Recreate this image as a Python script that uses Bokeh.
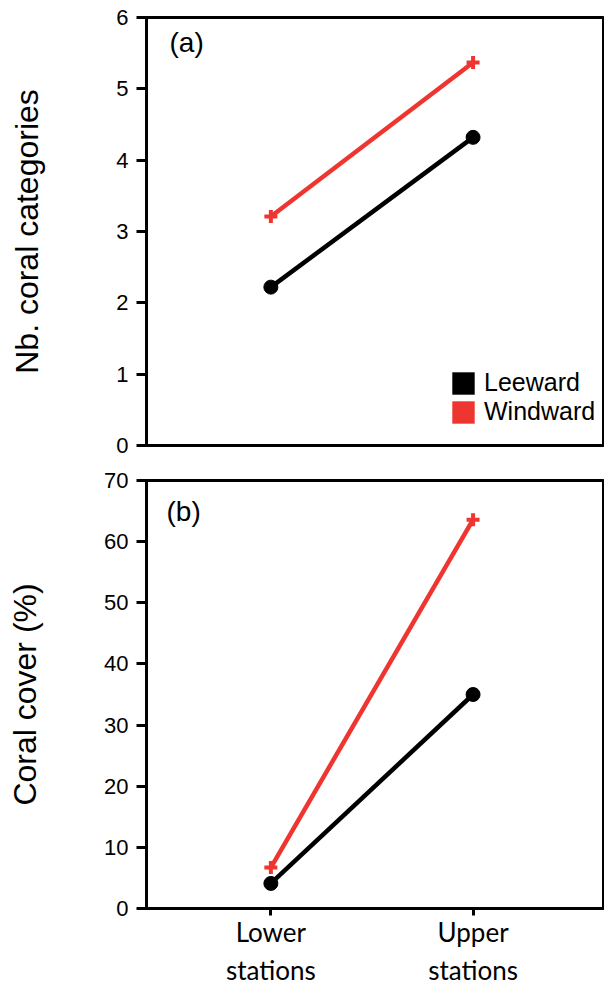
from bokeh.plotting import figure
from bokeh.layouts import column
from bokeh.models import Range1d, FixedTicker, Label, Legend, LegendItem, ColumnDataSource
from bokeh.embed import file_html
from bokeh.resources import INLINE

stations = ["Lower\nstations", "Upper\nstations"]
xpos = [1, 2]
categories_leeward = [2.22, 4.32]
categories_windward = [3.21, 5.37]
cover_leeward = [4.1, 35.0]
cover_windward = [6.7, 63.6]
cat_ticks = [0, 1, 2, 3, 4, 5, 6]
cover_ticks = [0, 10, 20, 30, 40, 50, 60, 70]
series_names = ["Leeward", "Windward"]

RED = "#EE3530"
BLACK = "#000000"
TICK_FONT = "Liberation Sans"


def base(height, top, bottom, left, yr, yticks, ylabel, label_standoff):
    p = figure(width=604, height=height, output_backend="svg", toolbar_location=None,
               x_range=Range1d(0.385, 2.645), y_range=Range1d(*yr),
               min_border_left=left, min_border_right=1, min_border_top=top,
               min_border_bottom=bottom)
    p.grid.visible = False
    p.outline_line_color = "black"
    p.outline_line_width = 3
    p.outline_line_alpha = 1
    ax = p.yaxis[0]
    ax.ticker = FixedTicker(ticks=yticks)
    ax.axis_line_width = 3
    ax.major_tick_line_width = 3
    ax.major_tick_out = 10
    ax.major_tick_in = 0
    ax.minor_tick_line_color = None
    ax.major_label_text_font = TICK_FONT
    ax.major_label_text_font_size = "22px"
    ax.major_label_text_color = "black"
    ax.major_label_standoff = 8
    ax.axis_label = ylabel
    ax.axis_label_text_font = TICK_FONT
    ax.axis_label_text_font_size = "32px"
    ax.axis_label_text_font_style = "normal"
    ax.axis_label_text_color = "black"
    ax.axis_label_standoff = label_standoff
    return p


def draw(p, lee, wind):
    p.line(xpos, lee, line_color=BLACK, line_width=4.5)
    p.scatter(xpos, lee, marker="circle", size=14, fill_color=BLACK, line_color=BLACK)
    p.line(xpos, wind, line_color=RED, line_width=4.5)
    p.scatter(xpos, wind, marker="cross", size=13, line_color=RED, line_width=4)


# Panel (a)
p1 = base(462, 17, 17, 142, (0, 6), cat_ticks, "Nb. coral categories", 68)
p1.xaxis.visible = False
draw(p1, categories_leeward, categories_windward)
p1.add_layout(Label(x=23, y=388, x_units="screen", y_units="screen", text="(a)",
                    text_font=TICK_FONT, text_font_size="28px", text_color="black"))
nan = float("nan")
swatch = ColumnDataSource(data=dict(l=[nan], r=[nan], t=[nan], b=[nan]))
q1 = p1.quad(left="l", right="r", top="t", bottom="b", source=swatch,
             fill_color=BLACK, line_color=None)
q2 = p1.quad(left="l", right="r", top="t", bottom="b", source=swatch,
             fill_color=RED, line_color=None)
legend = Legend(items=[LegendItem(label=series_names[0], renderers=[q1]),
                       LegendItem(label=series_names[1], renderers=[q2])],
                location=(303, 19), glyph_width=28, glyph_height=28, label_height=28,
                spacing=0, padding=0, margin=0, border_line_color=None,
                background_fill_alpha=0, label_text_color="black",
                label_text_font=TICK_FONT, label_text_font_size="25px", label_standoff=7)
p1.add_layout(legend)

# Panel (b)
p2 = base(528, 18, 82, 146, (0, 70), cover_ticks, "Coral cover (%)", 58)
xa = p2.xaxis[0]
xa.ticker = FixedTicker(ticks=xpos)
xa.major_label_overrides = {1: stations[0], 2: stations[1]}
xa.axis_line_width = 3
xa.major_tick_line_width = 3
xa.major_tick_out = 7
xa.major_tick_in = 0
xa.minor_tick_line_color = None
xa.major_label_text_font = "Lato"
xa.major_label_text_font_size = "26px"
xa.major_label_text_line_height = 1.2
xa.major_label_text_color = "black"
xa.major_label_standoff = 0
draw(p2, cover_leeward, cover_windward)
p2.add_layout(Label(x=20, y=382, x_units="screen", y_units="screen", text="(b)",
                    text_font=TICK_FONT, text_font_size="28px", text_color="black"))

layout = column(p1, p2, spacing=0)
open("out.html", "w").write(file_html(layout, INLINE))
